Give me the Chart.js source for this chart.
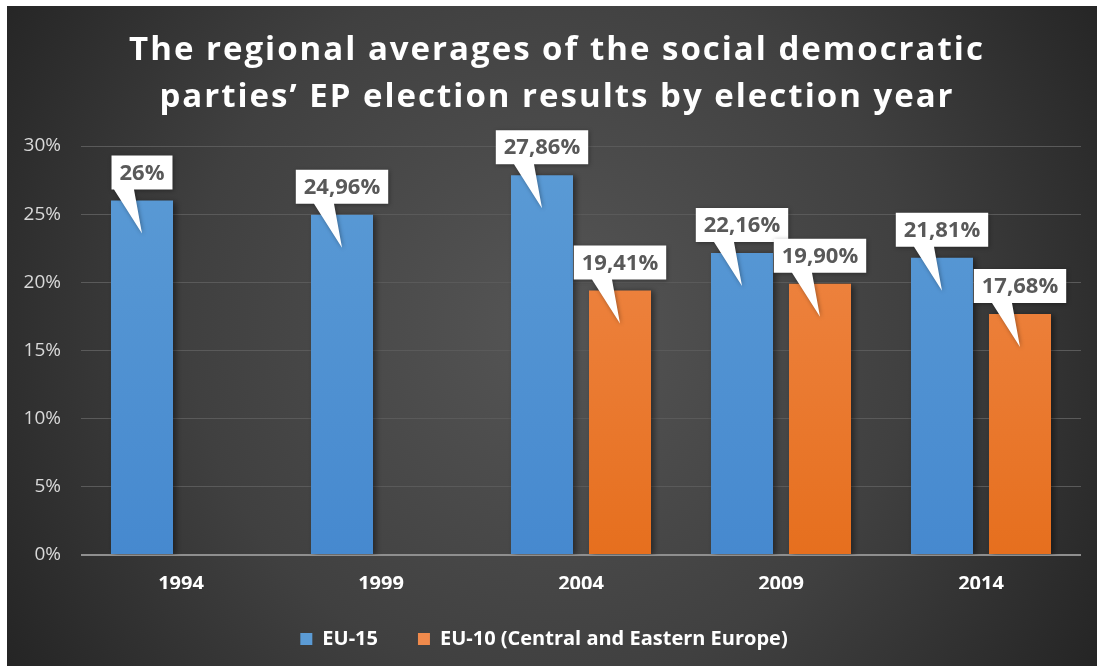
<!DOCTYPE html>
<html>
<head>
<meta charset="utf-8">
<script src="https://cdn.jsdelivr.net/npm/chart.js@4.4.1/dist/chart.umd.min.js"></script>
<style>
  html, body { margin: 0; padding: 0; background: #ffffff; }
  #wrap { position: absolute; left: 7px; top: 6px; width: 1090px; height: 660px; }
</style>
</head>
<body>
<div id="wrap"><canvas id="c" width="1090" height="660"></canvas></div>
<script>
// Election years and regional averages (percent of the vote)
const years = ['1994', '1999', '2004', '2009', '2014'];
const eu15 = [26, 24.96, 27.86, 22.16, 21.81];
const eu10 = [null, null, 19.41, 19.90, 17.68];
const seriesNames = ['EU-15', 'EU-10 (Central and Eastern Europe)'];
const titleLines = ['The regional averages of the social democratic',
                    'parties\u2019 EP election results by election year'];
const yTicks = [0, 5, 10, 15, 20, 25, 30];

const FONT = '"Open Sans", "DejaVu Sans", sans-serif';
const BLUE = '#5b9bd5', BLUE_DARK = '#4689cf';
const ORANGE = '#f08a4c', ORANGE_DARK = '#e66f1e';

function pct(v) {
  return (Number.isInteger(v) ? String(v) : v.toFixed(2).replace('.', ',')) + '%';
}

function barFill(top, bottom) {
  return (ctx) => {
    const area = ctx.chart.chartArea;
    if (!area) return top;
    const g = ctx.chart.ctx.createLinearGradient(0, area.top, 0, area.bottom);
    g.addColorStop(0, top);
    g.addColorStop(1, bottom);
    return g;
  };
}

// Dark radial backdrop, title, bar shadows and callout value labels
const decor = {
  id: 'decor',
  beforeDraw(chart) {
    const { ctx, width, height } = chart;
    const g = ctx.createRadialGradient(width * 0.5, height * 0.48, 20, width * 0.5, height * 0.48, 640);
    g.addColorStop(0, '#545454');
    g.addColorStop(0.55, '#404040');
    g.addColorStop(1, '#252525');
    ctx.save();
    ctx.fillStyle = g;
    ctx.fillRect(0, 0, width, height);
    ctx.restore();
  },
  beforeDatasetsDraw(chart) {
    const ctx = chart.ctx;
    ctx.save();
    ctx.shadowColor = 'rgba(0,0,0,0.45)';
    ctx.shadowBlur = 6;
    ctx.shadowOffsetX = 3;
    ctx.shadowOffsetY = 1;
  },
  afterDatasetsDraw(chart) {
    const ctx = chart.ctx;
    ctx.restore();
    ctx.save();
    ctx.font = 'bold 22px ' + FONT;
    ctx.textAlign = 'center';
    ctx.textBaseline = 'middle';
    chart.data.datasets.forEach((ds, di) => {
      const meta = chart.getDatasetMeta(di);
      meta.data.forEach((bar, i) => {
        const v = ds.data[i];
        if (v === null || v === undefined) return;
        const text = pct(v);
        const tw = ctx.measureText(text).width;
        const w = tw + 16, h = 34;
        const x = bar.x;
        const bottom = bar.y - 11;
        const top = bottom - h;
        ctx.save();
        ctx.shadowColor = 'rgba(0,0,0,0.35)';
        ctx.shadowBlur = 4;
        ctx.shadowOffsetX = 1;
        ctx.shadowOffsetY = 1;
        ctx.fillStyle = '#ffffff';
        ctx.beginPath();
        ctx.moveTo(x - w / 2, top);
        ctx.lineTo(x + w / 2, top);
        ctx.lineTo(x + w / 2, bottom);
        ctx.lineTo(x - 8, bottom);
        ctx.lineTo(x, bar.y + 33);
        ctx.lineTo(x - 28, bottom);
        ctx.lineTo(x - w / 2, bottom);
        ctx.closePath();
        ctx.fill();
        ctx.restore();
        ctx.fillStyle = '#595959';
        ctx.fillText(text, x, top + h / 2 + 1);
      });
    });
    ctx.restore();
  },
  afterDraw(chart) {
    const ctx = chart.ctx;
    ctx.save();
    ctx.fillStyle = '#ffffff';
    ctx.font = 'bold 33px ' + FONT;
    ctx.letterSpacing = '2px';
    ctx.textAlign = 'center';
    ctx.textBaseline = 'middle';
    ctx.fillText(titleLines[0], 550, 45);
    ctx.fillText(titleLines[1], 550, 92);
    ctx.restore();
  }
};

new Chart(document.getElementById('c'), {
  type: 'bar',
  data: {
    labels: years,
    datasets: [
      { label: seriesNames[0], data: eu15, backgroundColor: barFill(BLUE, BLUE_DARK), borderWidth: 0 },
      { label: seriesNames[1], data: eu10, backgroundColor: barFill(ORANGE, ORANGE_DARK), borderWidth: 0 }
    ]
  },
  options: {
    responsive: false,
    animation: false,
    events: [],
    categoryPercentage: 0.78,
    barPercentage: 0.795,
    layout: { padding: { top: 140, right: 16, left: 0, bottom: 7 } },
    plugins: {
      title: { display: false },
      tooltip: { enabled: false },
      legend: {
        position: 'bottom',
        labels: {
          color: '#ffffff',
          font: { family: FONT, size: 20, weight: 'bold' },
          boxWidth: 12,
          boxHeight: 12,
          padding: 40,
          generateLabels(chart) {
            const solid = [BLUE, ORANGE];
            return chart.data.datasets.map((ds, i) => ({
              text: ds.label,
              fillStyle: solid[i],
              strokeStyle: solid[i],
              lineWidth: 0,
              fontColor: '#ffffff',
              hidden: false,
              datasetIndex: i
            }));
          }
        }
      }
    },
    scales: {
      x: {
        grid: { display: false, drawTicks: false },
        border: { display: false },
        ticks: { color: '#ffffff', font: { family: FONT, size: 20, weight: 'bold' }, padding: 17 },
        afterFit(scale) { scale.height = 34; }
      },
      y: {
        min: 0,
        max: 30,
        afterBuildTicks(scale) { scale.ticks = yTicks.map(v => ({ value: v })); },
        ticks: {
          color: '#d9d9d9',
          font: { family: FONT, size: 19 },
          padding: 20,
          callback: (v) => v + '%'
        },
        grid: {
          drawTicks: false,
          color: (c) => (c.tick && c.tick.value === 0 ? '#8f8f8f' : '#5a5a5a'),
          lineWidth: (c) => (c.tick && c.tick.value === 0 ? 2 : 1)
        },
        border: { display: false },
        afterFit(scale) { scale.width = 74; }
      }
    }
  },
  plugins: [decor]
});
</script>
</body>
</html>
